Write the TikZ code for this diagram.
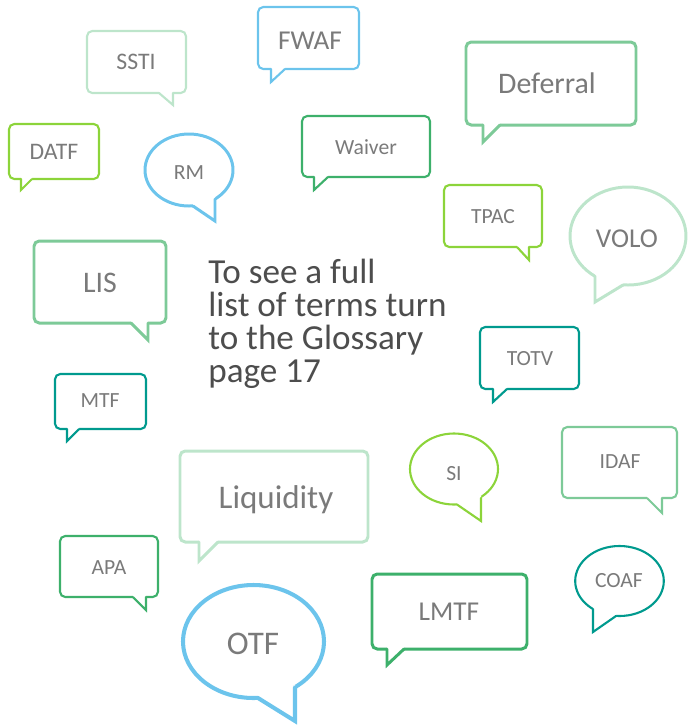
\documentclass[tikz,border=0pt]{standalone}
\usepackage{fontspec}
\setmainfont{Carlito}
\usetikzlibrary{calc}

\definecolor{bubblemint}{HTML}{BDE5CB}
\definecolor{bubblesky}{HTML}{6CC4EC}
\definecolor{bubbleleaf}{HTML}{7DCA98}
\definecolor{bubbleforest}{HTML}{3DB06B}
\definecolor{bubblelime}{HTML}{8CD43A}
\definecolor{bubbleteal}{HTML}{009A8E}
\definecolor{termgrey}{HTML}{7A7A7A}
\definecolor{notegrey}{HTML}{4D4D4D}

% tail of a speech bubble: base point, tip, base point
\newcommand{\talktail}[4]{%
	\fill[white] ($#2+(0,-2.5)$) -- #2 -- #3 -- #4 -- ($#4+(0,-2.5)$) -- cycle;
	\draw[#1, sharp corners, line join=miter, line cap=round] #2 -- #3 -- #4;
}

\begin{document}
\begin{tikzpicture}[
		x=0.02cm, y=-0.02cm,
		bubble/.style={line width=1.2pt, rounded corners=3pt},
		bubble mid/.style={bubble, line width=1.7pt},
		bubble thick/.style={bubble, line width=2.3pt},
		term/.style={anchor=base, inner sep=0pt, text=termgrey},
		term s/.style={term, font=\fontsize{12.3}{14}\selectfont},
		term m/.style={term, font=\fontsize{13.5}{16}\selectfont},
		term l/.style={term, font=\fontsize{15.5}{18}\selectfont},
		term xl/.style={term, font=\fontsize{17}{20}\selectfont},
		term xxl/.style={term, font=\fontsize{18.8}{22}\selectfont},
		glossary/.style={anchor=base west, align=left, inner sep=0pt,
			text=notegrey, font=\fontsize{20}{18.6}\selectfont},
	]
	\useasboundingbox (0,0) rectangle (688,725);

	% top row
	\draw[bubble, bubblemint] (87,31) rectangle (186,93);
	\talktail{bubble, bubblemint}{(159,93)}{(173,105)}{(173,93)}
	\node[term m] (ssti) at (136,69) {SSTI};

	\draw[bubble, bubblesky] (258,7) rectangle (359,69);
	\talktail{bubble, bubblesky}{(271,69)}{(271,82)}{(285,69)}
	\node[term l] (fwaf) at (310,49) {FWAF};

	\draw[bubble mid, bubbleleaf] (466,42) rectangle (636,125);
	\talktail{bubble mid, bubbleleaf}{(483,125)}{(483,142)}{(500,125)}
	\node[term xl] (deferral) at (547,93) {Deferral};

	\draw[bubble, bubblelime] (9,124) rectangle (99,179);
	\talktail{bubble, bubblelime}{(21,179)}{(21,190)}{(32,179)}
	\node[term m] (datf) at (54,159) {DATF};

	\draw[bubble mid, bubblesky] (189,170) ellipse [x radius=44, y radius=36];
	\talktail{bubble mid, bubblesky}{(193,206)}{(215,221)}{(215,199)}
	\node[term s] (rm) at (189,179) {RM};

	\draw[bubble, bubbleforest] (302,116) rectangle (430,177);
	\talktail{bubble, bubbleforest}{(314,177)}{(314,190)}{(328,177)}
	\node[term s] (waiver) at (366,154) {Waiver};

	\draw[bubble, bubblelime] (444,185) rectangle (542,247);
	\talktail{bubble, bubblelime}{(517,247)}{(529,260)}{(529,247)}
	\node[term s] (tpac) at (493,223) {TPAC};

	\draw[bubble mid, bubblemint] (628,236) ellipse [x radius=58, y radius=49];
	\talktail{bubble mid, bubblemint}{(595,276)}{(595,302)}{(623,285)}
	\node[term l] (volo) at (627,247) {VOLO};

	% middle
	\draw[bubble mid, bubbleleaf] (34,241) rectangle (166,323);
	\talktail{bubble mid, bubbleleaf}{(131,323)}{(148,340)}{(148,323)}
	\node[term xl] (lis) at (100,292) {LIS};

	\node[glossary] (note) at (208,382)
		{To see a full\\list of terms turn\\to the Glossary\\page 17};

	\draw[bubble, bubbleteal] (55,374) rectangle (146,429);
	\talktail{bubble, bubbleteal}{(67,429)}{(67,441)}{(79,429)}
	\node[term s] (mtf) at (100,407) {MTF};

	\draw[bubble, bubbleteal] (480,327) rectangle (579,389);
	\talktail{bubble, bubbleteal}{(493,389)}{(493,402)}{(507,389)}
	\node[term s] (totv) at (530,365) {TOTV};

	\draw[bubble, bubblelime] (454,469) ellipse [x radius=44, y radius=35.5];
	\talktail{bubble, bubblelime}{(457,504.5)}{(481,521)}{(481,498)}
	\node[term s] (si) at (454,480) {SI};

	\draw[bubble, bubbleleaf] (562,427) rectangle (677,498);
	\talktail{bubble, bubbleleaf}{(647,498)}{(662,513)}{(662,498)}
	\node[term s] (idaf) at (620,468) {IDAF};

	% bottom
	\draw[bubble mid, bubblemint] (180,451) rectangle (368,542);
	\talktail{bubble mid, bubblemint}{(199,542)}{(199,561)}{(218,542)}
	\node[term xxl] (liquidity) at (276,508) {Liquidity};

	\draw[bubble, bubbleforest] (60,536) rectangle (158,597);
	\talktail{bubble, bubbleforest}{(133,597)}{(146,610)}{(146,597)}
	\node[term s] (apa) at (109,574) {APA};

	\draw[bubble thick, bubblesky] (253.5,641.5) ellipse [x radius=70.5, y radius=56.5];
	\talktail{bubble thick, bubblesky}{(258,698)}{(295,721)}{(295,687.5)}
	\node[term xxl] (otf) at (253,654) {OTF};

	\draw[bubble mid, bubbleforest] (372,574) rectangle (527,649);
	\talktail{bubble mid, bubbleforest}{(387,649)}{(387,665)}{(404,649)}
	\node[term l] (lmtf) at (449,620) {LMTF};

	\draw[bubble, bubbleteal] (619.5,581) ellipse [x radius=44.3, y radius=35];
	\talktail{bubble, bubbleteal}{(593,609)}{(593,632)}{(616,616)}
	\node[term s] (coaf) at (619,587) {COAF};
\end{tikzpicture}
\end{document}
